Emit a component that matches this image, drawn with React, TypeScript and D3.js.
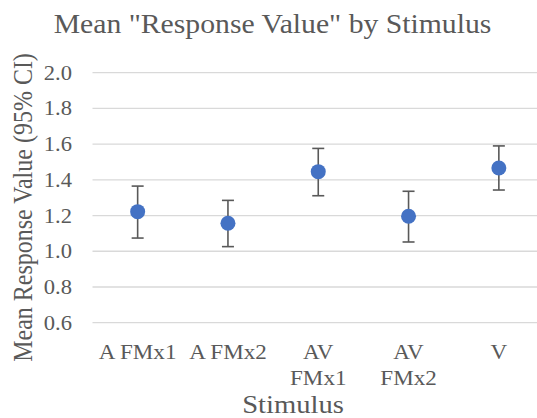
import React, { useEffect, useRef } from "react";
import * as d3 from "d3";

const categories = ["A FMx1", "A FMx2", "AV FMx1", "AV FMx2", "V"];
const labelLines = [["A FMx1"], ["A FMx2"], ["AV", "FMx1"], ["AV", "FMx2"], ["V"]];
const means = [1.222, 1.157, 1.446, 1.196, 1.466];
const ciLow = [1.074, 1.026, 1.311, 1.052, 1.343];
const ciHigh = [1.365, 1.285, 1.576, 1.336, 1.59];
const yTicks = [0.6, 0.8, 1.0, 1.2, 1.4, 1.6, 1.8, 2.0];

const W = 537, H = 418;
const FONT = "'Liberation Serif', 'Times New Roman', serif";
const TEXT = "#595959";
const SX = 1.1; // the reference text is a little wide

const App = () => {
  const svgRef = useRef<SVGSVGElement>(null);

  useEffect(() => {
    const svg = d3.select(svgRef.current);
    svg.selectAll("*").remove();

    const left = 92.5, right = 544, top = 72.7, bottom = 322.7;

    const x = d3.scaleBand().domain(categories).range([left, right]);
    const y = d3.scaleLinear().domain([0.6, 2.0]).range([bottom, top]);
    const cx = (c: string) => x(c)! + x.bandwidth() / 2;

    const label = (px: number, py: number, size: number, anchor: string, txt: string, rot = 0) =>
      svg.append("text")
        .attr("transform", `translate(${px},${py}) scale(${SX},1)${rot ? ` rotate(${rot})` : ""}`)
        .attr("text-anchor", anchor)
        .attr("font-family", FONT).attr("font-size", size)
        .attr("fill", TEXT)
        .text(txt);

    // title
    label(272.5, 33.3, 27, "middle", 'Mean "Response Value" by Stimulus');

    // gridlines
    svg.append("g").selectAll("line")
      .data(yTicks).enter().append("line")
      .attr("x1", left).attr("x2", right)
      .attr("y1", d => y(d)).attr("y2", d => y(d))
      .attr("stroke", "#d9d9d9").attr("stroke-width", 1.3);

    // y tick labels
    yTicks.forEach(t => label(72, y(t) + 7, 20.5, "end", t.toFixed(1)));

    // x tick labels
    categories.forEach((c, i) => {
      labelLines[i].forEach((ln, j) => label(cx(c), 358.5 + j * 26.5, 21, "middle", ln));
    });

    // axis titles
    label(293, 413, 26, "middle", "Stimulus");
    label(32, 207.5, 24, "middle", "Mean Response Value (95% CI)", -90);

    // error bars
    const eb = svg.append("g").attr("stroke", "#595959").attr("stroke-width", 1.6);
    categories.forEach((c, i) => {
      const xc = cx(c);
      eb.append("line").attr("x1", xc).attr("x2", xc).attr("y1", y(ciLow[i])).attr("y2", y(ciHigh[i]));
      eb.append("line").attr("x1", xc - 6).attr("x2", xc + 6).attr("y1", y(ciLow[i])).attr("y2", y(ciLow[i]));
      eb.append("line").attr("x1", xc - 6).attr("x2", xc + 6).attr("y1", y(ciHigh[i])).attr("y2", y(ciHigh[i]));
    });

    // points
    svg.append("g").selectAll("circle")
      .data(means).enter().append("circle")
      .attr("cx", (d, i) => cx(categories[i]))
      .attr("cy", d => y(d))
      .attr("r", 7.5)
      .attr("fill", "#4472C4");
  }, []);

  return (
    <svg ref={svgRef} width={W} height={H}
      style={{ position: "absolute", left: 0, top: 0, background: "#fff" }} />
  );
};

export default App;
